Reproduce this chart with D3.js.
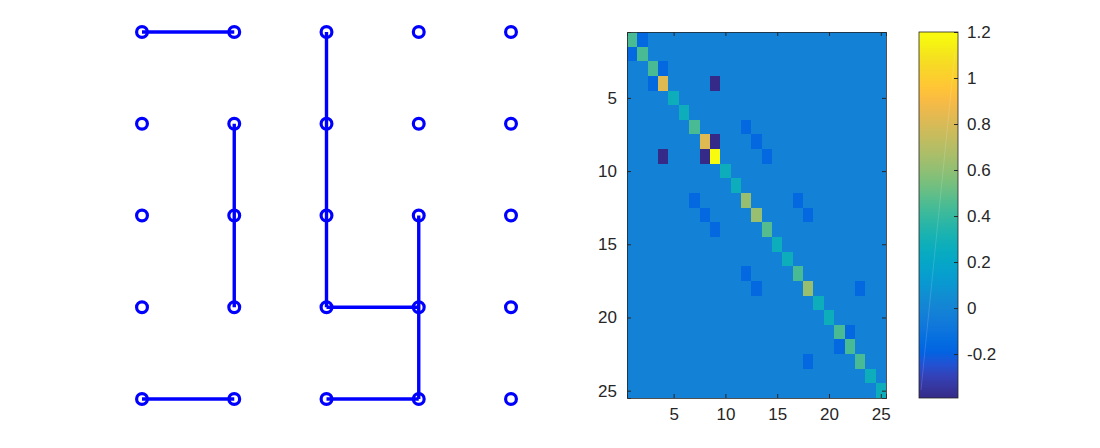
<!doctype html>
<html lang="en">
<head>
    <meta charset="utf-8">
    <title>Graph and matrix</title>
    <script src="https://cdnjs.cloudflare.com/ajax/libs/d3/7.8.5/d3.min.js"></script>
    <style>
        body { margin: 0; background: #fff; }
        svg text { font-family: "Liberation Sans", Arial, sans-serif; fill: #262626; }
        .axis path, .axis line { stroke: #262626; }
        .cell { shape-rendering: crispEdges; }
    </style>
</head>
<body>
    <div id="chart"></div>
    <script>
        // grid graph: 5 columns x 5 rows, row 1 is the top
        var gridCols = [1, 2, 3, 4, 5];
        var gridRows = [1, 2, 3, 4, 5];
        // edges as [col, row] -> [col, row]
        var edges = [
            [[1, 1], [2, 1]],
            [[2, 2], [2, 4]],
            [[3, 1], [3, 4]],
            [[3, 4], [4, 4]],
            [[4, 3], [4, 5]],
            [[1, 5], [2, 5]],
            [[3, 5], [4, 5]]
        ];

        // 25x25 matrix: background value plus listed entries [row, col, value]
        var matSize = 25;
        var matBase = 0;
        var diagValues = [0.45, 0.45, 0.45, 0.82, 0.27, 0.27, 0.45, 0.82, 1.2, 0.27,
                          0.27, 0.62, 0.62, 0.47, 0.27, 0.27, 0.45, 0.62, 0.27, 0.27,
                          0.45, 0.45, 0.45, 0.27, 0.27];
        var offDiag = [
            [1, 2, -0.16], [2, 1, -0.16],
            [3, 4, -0.16], [4, 3, -0.16],
            [4, 9, -0.39], [9, 4, -0.39],
            [8, 9, -0.39], [9, 8, -0.39],
            [7, 12, -0.16], [12, 7, -0.16],
            [8, 13, -0.16], [13, 8, -0.16],
            [9, 14, -0.16], [14, 9, -0.16],
            [12, 17, -0.16], [17, 12, -0.16],
            [13, 18, -0.16], [18, 13, -0.16],
            [18, 23, -0.16], [23, 18, -0.16],
            [21, 22, -0.16], [22, 21, -0.16]
        ];
        var matTicks = [5, 10, 15, 20, 25];
        var colorDomain = [-0.391, 1.2];
        var colorTicks = [-0.2, 0, 0.2, 0.4, 0.6, 0.8, 1, 1.2];

        // parula colormap (subsampled)
        var parula = [
            [0.2081, 0.1663, 0.5292], [0.2123, 0.2138, 0.6270], [0.1959, 0.2645, 0.7279],
            [0.1253, 0.3242, 0.8303], [0.0117, 0.3875, 0.8820], [0.0165, 0.4266, 0.8786],
            [0.0498, 0.4586, 0.8641], [0.0723, 0.4887, 0.8467], [0.0793, 0.5200, 0.8312],
            [0.0641, 0.5570, 0.8240], [0.0343, 0.5966, 0.8199], [0.0239, 0.6287, 0.8038],
            [0.0228, 0.6535, 0.7768], [0.0384, 0.6743, 0.7436], [0.0843, 0.6928, 0.7062],
            [0.1453, 0.7098, 0.6646], [0.2178, 0.7250, 0.6193], [0.3022, 0.7376, 0.5712],
            [0.3953, 0.7459, 0.5244], [0.4871, 0.7491, 0.4840], [0.5709, 0.7485, 0.4494],
            [0.6473, 0.7456, 0.4188], [0.7184, 0.7411, 0.3905], [0.7858, 0.7356, 0.3633],
            [0.8507, 0.7299, 0.3360], [0.9139, 0.7258, 0.3063], [0.9739, 0.7314, 0.2666],
            [0.9990, 0.7653, 0.2164], [0.9880, 0.8066, 0.1794], [0.9697, 0.8481, 0.1475],
            [0.9589, 0.8949, 0.1132], [0.9661, 0.9514, 0.0755], [0.9763, 0.9831, 0.0538]
        ].map(function (c) { return d3.rgb(c[0] * 255, c[1] * 255, c[2] * 255).formatHex(); });

        var width = 1100, height = 448;
        var fontSize = "17px";
        var svg = d3.select("#chart").append("svg")
            .attr("width", width)
            .attr("height", height);

        // ---- left: graph ----
        var gx = d3.scaleLinear().domain([1, 5]).range([142, 511]);
        var gy = d3.scaleLinear().domain([1, 5]).range([32, 399]);
        var blue = "#0000ff";
        var graph = svg.append("g");

        graph.selectAll("line.edge")
            .data(edges)
            .enter().append("line")
            .attr("class", "edge")
            .attr("x1", function (d) { return gx(d[0][0]); })
            .attr("y1", function (d) { return gy(d[0][1]); })
            .attr("x2", function (d) { return gx(d[1][0]); })
            .attr("y2", function (d) { return gy(d[1][1]); })
            .attr("stroke", blue)
            .attr("stroke-width", 3.4);

        var nodes = [];
        gridCols.forEach(function (c) {
            gridRows.forEach(function (r) { nodes.push([c, r]); });
        });
        graph.selectAll("circle")
            .data(nodes)
            .enter().append("circle")
            .attr("cx", function (d) { return gx(d[0]); })
            .attr("cy", function (d) { return gy(d[1]); })
            .attr("r", 5.4)
            .attr("fill", "none")
            .attr("stroke", blue)
            .attr("stroke-width", 3.2);

        // ---- right: matrix image ----
        var mx = d3.scaleLinear().domain([0.5, matSize + 0.5]).range([627, 886]);
        var my = d3.scaleLinear().domain([0.5, matSize + 0.5]).range([32, 398]);
        var color = d3.scaleQuantize().domain(colorDomain).range(
            d3.quantize(d3.interpolateRgbBasis(parula), 64));

        var cells = [];
        var lookup = {};
        offDiag.forEach(function (d) { lookup[d[0] + "," + d[1]] = d[2]; });
        for (var i = 1; i <= matSize; i++) {
            for (var j = 1; j <= matSize; j++) {
                var v = matBase;
                if (i === j) v = diagValues[i - 1];
                else if (lookup[i + "," + j] !== undefined) v = lookup[i + "," + j];
                cells.push({ r: i, c: j, v: v });
            }
        }

        var mat = svg.append("g");
        mat.append("rect")
            .attr("x", mx(0.5)).attr("y", my(0.5))
            .attr("width", mx(matSize + 0.5) - mx(0.5))
            .attr("height", my(matSize + 0.5) - my(0.5))
            .attr("fill", color(matBase));
        mat.selectAll("rect.cell")
            .data(cells.filter(function (d) { return d.v !== matBase; }))
            .enter().append("rect")
            .attr("class", "cell")
            .attr("x", function (d) { return mx(d.c - 0.5); })
            .attr("y", function (d) { return my(d.r - 0.5); })
            .attr("width", mx(1.5) - mx(0.5))
            .attr("height", my(1.5) - my(0.5))
            .attr("fill", function (d) { return color(d.v); });

        var tickLen = 4;
        function thinDomain(g) { g.select(".domain").attr("stroke-width", 0.8); }
        svg.append("g").attr("class", "axis")
            .attr("transform", "translate(0," + my(matSize + 0.5) + ")")
            .call(d3.axisBottom(mx).tickValues(matTicks).tickSize(-tickLen).tickPadding(10))
            .call(thinDomain);
        svg.append("g").attr("class", "axis")
            .attr("transform", "translate(0," + my(0.5) + ")")
            .call(d3.axisTop(mx).tickValues(matTicks).tickSize(-tickLen).tickFormat(""))
            .call(thinDomain);
        svg.append("g").attr("class", "axis")
            .attr("transform", "translate(" + mx(0.5) + ",0)")
            .call(d3.axisLeft(my).tickValues(matTicks).tickSize(-tickLen).tickPadding(10))
            .call(thinDomain);
        svg.append("g").attr("class", "axis")
            .attr("transform", "translate(" + mx(matSize + 0.5) + ",0)")
            .call(d3.axisRight(my).tickValues(matTicks).tickSize(-tickLen).tickFormat(""))
            .call(thinDomain);

        // ---- colorbar ----
        var cbX = 919, cbW = 39;
        var cy = d3.scaleLinear().domain(colorDomain).range([398, 32]);
        var grad = svg.append("defs").append("linearGradient")
            .attr("id", "cbgrad")
            .attr("x1", 0).attr("y1", 1).attr("x2", 0).attr("y2", 0);
        parula.forEach(function (c, k) {
            grad.append("stop")
                .attr("offset", k / (parula.length - 1))
                .attr("stop-color", c);
        });
        svg.append("rect")
            .attr("x", cbX).attr("y", cy(colorDomain[1]))
            .attr("width", cbW).attr("height", cy(colorDomain[0]) - cy(colorDomain[1]))
            .attr("fill", "url(#cbgrad)");
        // faint rendering seam seen in the original
        svg.append("line")
            .attr("x1", cbX + 2).attr("y1", cy(colorDomain[0]) - 8)
            .attr("x2", cbX + cbW - 3).attr("y2", cy(colorDomain[1]) + 20)
            .attr("stroke", "#fff").attr("stroke-opacity", 0.25).attr("stroke-width", 0.6);

        var cbAxis = svg.append("g").attr("class", "axis")
            .attr("transform", "translate(" + (cbX + cbW) + ",0)")
            .call(d3.axisRight(cy).tickValues(colorTicks).tickSize(-tickLen).tickPadding(9)
                .tickFormat(function (d) { return String(+d.toFixed(1)); }));
        cbAxis.select(".domain").remove();
        svg.append("rect")
            .attr("x", cbX).attr("y", cy(colorDomain[1]))
            .attr("width", cbW).attr("height", cy(colorDomain[0]) - cy(colorDomain[1]))
            .attr("fill", "none").attr("stroke", "#262626").attr("stroke-width", 0.8);

        svg.selectAll(".axis text").style("font-size", fontSize);
    </script>
</body>
</html>
